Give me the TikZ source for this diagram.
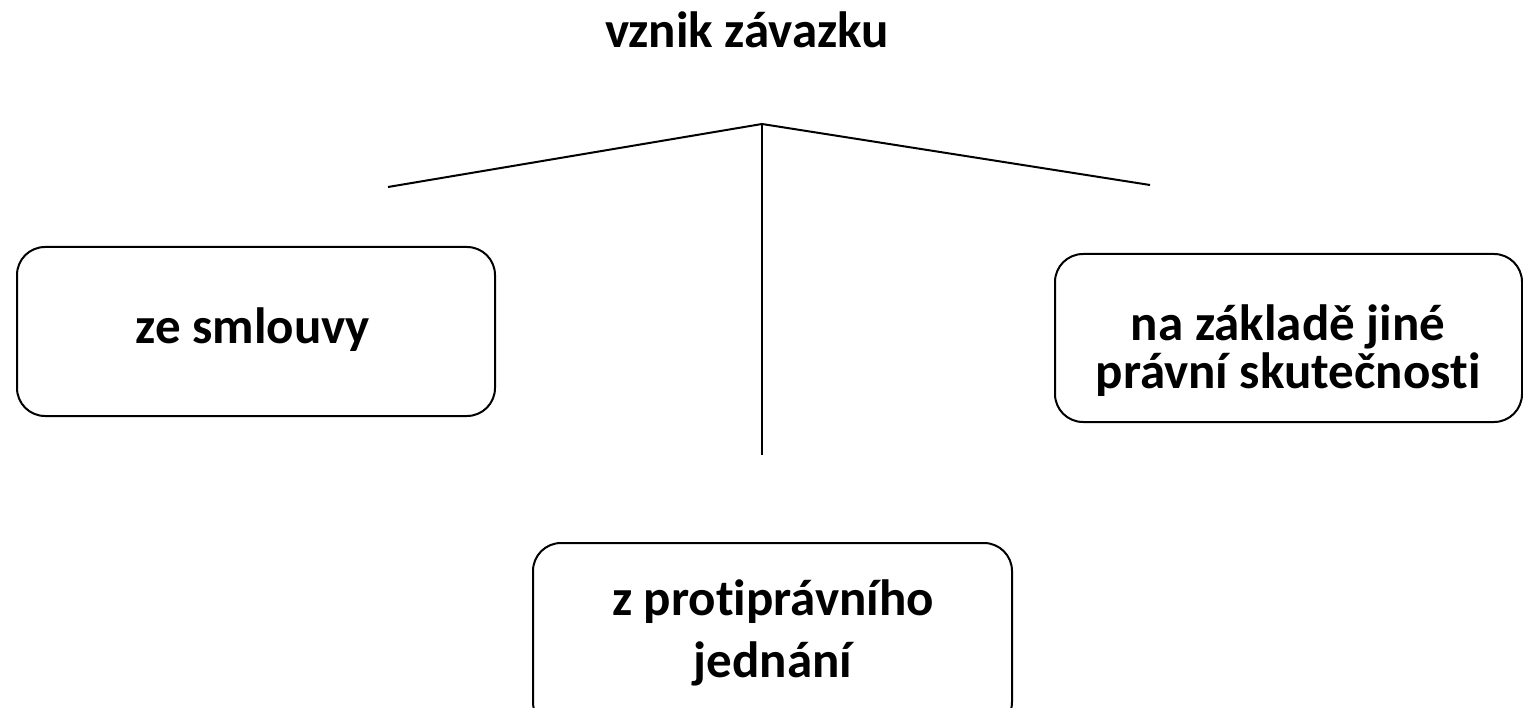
\documentclass[tikz,border=0pt]{standalone}
\usepackage{fontspec}
\setmainfont{Carlito}[Ligatures={CommonOff,ContextualOff}]
\usetikzlibrary{positioning}
\tikzset{
  card/.style={draw,rectangle,rounded corners=28pt,line width=2pt},
  caption/.style={font=\fontsize{51}{#1}\selectfont\bfseries,align=center,inner sep=0pt},
  caption/.default=60,
  branch/.style={line width=2pt},
}

\begin{document}
\begin{tikzpicture}[x=1pt,y=-1pt]
      \useasboundingbox (0,0) rectangle (1523,708);
      \clip (0,0) rectangle (1523,708);

      % head and the fan of branches
      \node[caption]    (head)  at (747,30)   {vznik závazku};
      \coordinate (apex)  at (762,124);
      \coordinate (lend)  at (388,187);
      \coordinate (rend)  at (1150,185);
      \coordinate (stem)  at (762,455);
      \draw[branch] (lend) -- (apex) -- (rend);
      \draw[branch] (apex) -- (stem);

      % the three kinds
      \node[card,minimum width=478,minimum height=169]    (contract)  at (256,331.5)  {};
      \node[caption]    (contracttext)  at (253,330)  {ze smlouvy};

      \node[card,minimum width=467,minimum height=168]    (other)  at (1288.5,338)  {};
      \node[caption=48]    (othertext)  at (1288,351)  {na základě jiné\\právní skutečnosti};

      \node[card,minimum width=479,minimum height=187]    (tort)  at (772.5,636.5)  {};
      \node[caption=62]    (torttext)  at (773,633)  {z protiprávního\\jednání};

    \end{tikzpicture}
\end{document}
